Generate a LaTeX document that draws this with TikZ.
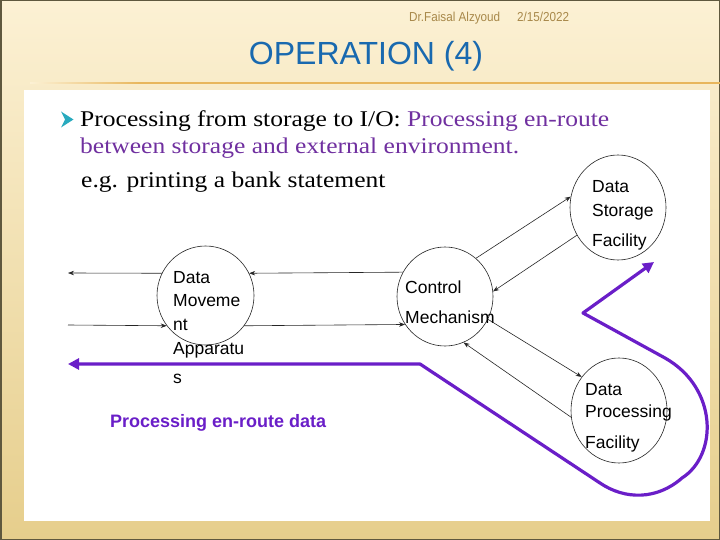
\documentclass[tikz,border=0pt]{standalone}
\usepackage{fontspec}
\setmainfont{Liberation Serif}
\newfontfamily\arialf{Liberation Sans}
\usetikzlibrary{arrows.meta,shapes.geometric}
\definecolor{creamc}{RGB}{252,241,212}
\definecolor{framec}{RGB}{230,206,140}
\definecolor{bordc}{RGB}{95,88,62}
\definecolor{goldc}{RGB}{232,182,92}
\definecolor{headc}{RGB}{168,136,74}
\definecolor{titlec}{RGB}{25,105,175}
\definecolor{txtpur}{RGB}{112,48,160}
\definecolor{pur}{RGB}{106,30,200}
\definecolor{tealc}{RGB}{40,170,190}
\begin{document}
\begin{tikzpicture}[x=1pt,y=-1pt,
  circ/.style={draw=black!85,line width=0.6pt,ellipse,inner sep=0pt},
  lbl/.style={anchor=base west,inner sep=0pt,font=\arialf\fontsize{17.5}{20}\selectfont},
  flow/.style={draw=black!85,line width=0.6pt,-{Stealth[length=6pt,width=4.5pt]}},
  pflow/.style={draw=pur,line width=3.2pt,line join=round,{Triangle[length=11pt,width=11pt]}-{Triangle[length=11pt,width=11pt]}},
  btxt/.style={anchor=base west,inner sep=0pt,font=\fontsize{22.5}{27}\selectfont}
]
\useasboundingbox (0,0) rectangle (720,540);
% background
\shade[top color=creamc,bottom color=framec] (0,0) rectangle (720,540);
\draw[bordc,line width=1.5pt] (0.75,0.75) rectangle (719.25,539.25);
\shade[left color=creamc,right color=goldc] (30,82.4) rectangle (140,83.6);
\fill[goldc] (139.5,82.4) rectangle (720,83.6);
\fill[white] (24,90) rectangle (710,521);
% header
\node[anchor=base west,inner sep=0pt,text=headc,font=\arialf\fontsize{13}{15}\selectfont] (auth) at (409,22) {\scalebox{0.9}[1]{Dr.Faisal Alzyoud}};
\node[anchor=base west,inner sep=0pt,text=headc,font=\arialf\fontsize{13}{15}\selectfont] (date) at (517,22) {\scalebox{0.9}[1]{2/15/2022}};
\node[anchor=base,inner sep=0pt,text=titlec,font=\arialf\fontsize{32}{36}\selectfont] (title) at (366,65) {OPERATION (4)};
% bullet
\fill[tealc] (61,111.5) -- (73.5,119.5) -- (61,127.5) -- (65,119.5) -- cycle;
\node[btxt] (l1) at (80,127) {\scalebox{1.135}[1]{Processing from storage to I/O: \textcolor{txtpur}{Processing en-route}}};
\node[btxt,text=txtpur] (l2) at (80,154) {\scalebox{1.135}[1]{between storage and external environment.}};
\node[btxt] (l3) at (81,188) {\scalebox{1.135}[1]{e.g. printing a bank statement}};
% circles
\node[circ,minimum width=97pt,minimum height=99pt] (dma) at (205.5,295.5) {};
\node[circ,minimum width=96pt,minimum height=99pt] (cm) at (445,296.5) {};
\node[circ,minimum width=96pt,minimum height=105pt] (dsf) at (618,207.5) {};
\node[circ,minimum width=96pt,minimum height=105pt] (dpf) at (619,410.5) {};
% labels
\node[lbl] (dma1) at (173,283) {Data};
\node[lbl] (dma2) at (173,306) {Moveme};
\node[lbl] (dma3) at (173,330) {nt};
\node[lbl] (dma4) at (173,354) {Apparatu};
\node[lbl] (dma5) at (173,383) {s};
\node[lbl] (cm1) at (405,293) {Control};
\node[lbl] (cm2) at (405,323) {Mechanism};
\node[lbl] (dsf1) at (592,193) {Data};
\node[lbl] (dsf2) at (592,217) {Storage};
\node[lbl] (dsf3) at (592,247) {Facility};
\node[lbl] (dpf1) at (585,395) {Data};
\node[lbl] (dpf2) at (585,417) {Processing};
\node[lbl] (dpf3) at (585,448) {Facility};
% connectors
\coordinate (o1) at (68,273);
\coordinate (i1) at (68,325);
\draw[flow] (dma.153) -- (o1);
\draw[flow] (cm.150) -- (dma.27);
\draw[flow] (i1) -- (dma.218);
\draw[flow] (dma.322) -- (cm.215);
\draw[flow] (cm.51) -- (dsf.167);
\draw[flow] (dsf.214) -- (cm.6);
\draw[flow] (cm.332) -- (dpf.138);
\draw[flow] (dpf.188) -- (cm.292);
% purple route
\coordinate (pa) at (654,262);
\coordinate (pv) at (583,313);
\coordinate (pe) at (68,364);
\draw[pflow] (pa) -- (pv) -- (665,358) .. controls (718,388) and (718,455) .. (682,478) .. controls (657,500) and (625,500) .. (600,483) -- (420,364) -- (pe);
\node[anchor=base west,inner sep=0pt,text=pur,font=\arialf\bfseries\fontsize{18}{20}\selectfont] (plbl) at (110,427) {Processing en-route data};
\end{tikzpicture}
\end{document}
